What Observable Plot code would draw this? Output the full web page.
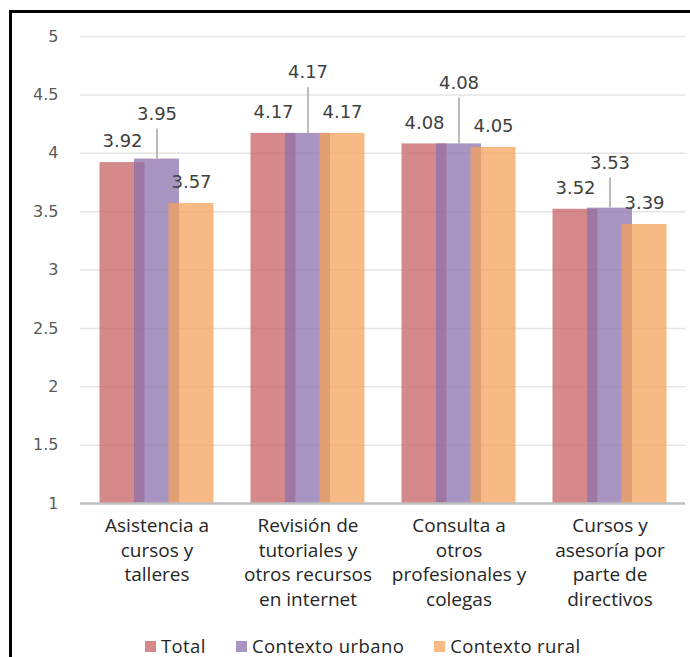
<!DOCTYPE html>
<html>
<head>
<meta charset="utf-8">
<script src="https://cdn.jsdelivr.net/npm/d3@7"></script>
<script src="https://cdn.jsdelivr.net/npm/@observablehq/plot@0.6"></script>
<style>
  html, body { margin: 0; padding: 0; background: #fff; width: 690px; height: 657px; overflow: hidden; }
  #frame { position: absolute; left: 9px; top: 10px; width: 720px; height: 700px;
           border-left: 3px solid #000; border-top: 3px solid #000; }
  #chart { position: absolute; left: 0; top: 0; }
  #legend { position: absolute; left: 145px; top: 636px; height: 20px; display: flex; align-items: center;
            font-family: "Open Sans", sans-serif; font-size: 18.5px; line-height: 20px; letter-spacing: 0.4px;
            color: #262626; white-space: nowrap; }
  #legend .item { display: flex; align-items: center; margin-right: 30px; }
  #legend .sw { width: 11px; height: 11px; margin-right: 5px; }
</style>
</head>
<body>
<div id="frame"><div id="chart"></div></div>
<div id="legend"></div>
<script>
// Categories (short keys) and their multi-line axis labels
const categories = ["Asistencia", "Revisión", "Consulta", "Cursos"];
const categoryLabels = [
  "Asistencia a\ncursos y\ntalleres",
  "Revisión de\ntutoriales y\notros recursos\nen internet",
  "Consulta a\notros\nprofesionales y\ncolegas",
  "Cursos y\nasesoría por\nparte de\ndirectivos"
];

// Series
const seriesNames = ["Total", "Contexto urbano", "Contexto rural"];
const totalValues = [3.92, 4.17, 4.08, 3.52];
const urbanValues = [3.95, 4.17, 4.08, 3.53];
const ruralValues = [3.57, 4.17, 4.05, 3.39];
const seriesColors = ["#c76163", "#8b71ad", "#f5a35b"];
const yTicks = [1, 1.5, 2, 2.5, 3, 3.5, 4, 4.5, 5];

// Layout
const width = 678, height = 615;
const marginTop = 23, marginBottom = 125, marginLeft = 68, marginRight = 5;
const yMin = 1, yMax = 5;
const pxPerUnit = (height - marginTop - marginBottom) / (yMax - yMin);
const barShift = 34.5;          // horizontal offset between overlapping bars
const offsets = [-barShift, 0, barShift];
const fillOpacity = 0.75;
const numFont = "DejaVu Sans, sans-serif";
const textFont = "Open Sans, sans-serif";

const seriesValues = [totalValues, urbanValues, ruralValues];
const rows = seriesValues.map(vals => categories.map((c, i) => ({cat: c, value: vals[i]})));

// Data labels: Total and rural sit just above their bars; the urban label is lifted
// higher with a leader line, and further when it ties with a neighbouring bar.
const toUnits = px => px / pxPerUnit;
const labelRows = seriesValues.map((vals, s) => categories.map((c, i) => {
  const v = vals[i];
  let lift = 21;
  if (s === 1) lift = v <= Math.max(totalValues[i], ruralValues[i]) ? 61 : 45;
  return {cat: c, value: v, ly: v + toUnits(lift), lineTop: v + toUnits(lift - 15)};
}));

const marks = [
  Plot.gridY(yTicks.filter(t => t > 1), {stroke: "#e4e4e4", strokeOpacity: 1, strokeWidth: 1.5}),
  ...rows.map((data, s) => Plot.barY(data, {
    x: "cat", y1: yMin, y2: "value", dx: offsets[s],
    fill: seriesColors[s], fillOpacity
  })),
  Plot.ruleY([yMin], {stroke: "#bfbfbf", strokeWidth: 2.5}),
  Plot.ruleX(labelRows[1], {x: "cat", y1: "value", y2: "lineTop", stroke: "#a6a6a6", strokeWidth: 1.5}),
  ...labelRows.map((data, s) => Plot.text(data, {
    x: "cat", y: "ly", dx: offsets[s], text: d => d.value.toFixed(2),
    fontSize: 18, fill: "#404040", fontFamily: numFont, style: "letter-spacing:0.5px"
  })),
  Plot.axisY({ticks: yTicks, tickSize: 0, tickPadding: 22, tickFormat: d => String(d),
    fontSize: 16, fill: "#595959", fontFamily: numFont, label: null}),
  Plot.axisX({tickSize: 0, tickPadding: 11, fontSize: 19, lineHeight: 1.3,
    tickFormat: d => categoryLabels[categories.indexOf(d)],
    fill: "#262626", fontFamily: textFont, label: null,
    style: "letter-spacing:0.8px; word-spacing:6px"})
];

const chart = Plot.plot({
  width, height, marginTop, marginBottom, marginLeft, marginRight,
  x: {domain: categories, paddingInner: 0.7026, paddingOuter: 0.3513, axis: null},
  y: {domain: [yMin, yMax], axis: null},
  style: {background: "transparent", overflow: "visible"},
  marks
});
document.getElementById("chart").appendChild(chart);

// Legend below the chart
const legend = document.getElementById("legend");
seriesNames.forEach((name, s) => {
  const item = document.createElement("div");
  item.className = "item";
  const sw = document.createElement("span");
  sw.className = "sw";
  sw.style.background = seriesColors[s];
  sw.style.opacity = fillOpacity;
  const label = document.createElement("span");
  label.textContent = name;
  item.appendChild(sw);
  item.appendChild(label);
  legend.appendChild(item);
});
</script>
</body>
</html>
